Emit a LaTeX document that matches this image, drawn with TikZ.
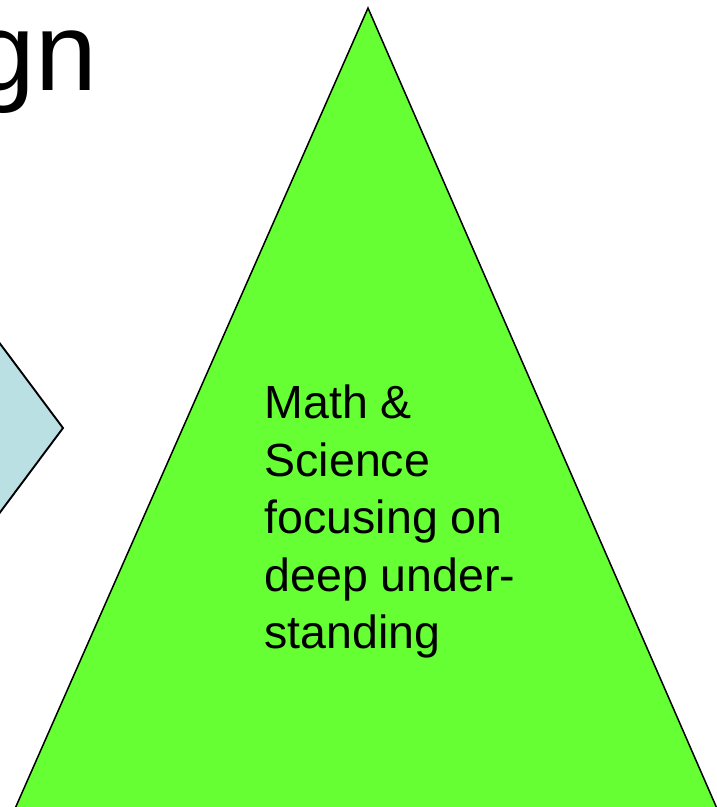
\documentclass[tikz,border=0pt]{standalone}
\usepackage{fontspec}
\setmainfont{Liberation Sans}
\definecolor{trigreen}{HTML}{66FF33}
\definecolor{diablue}{HTML}{BBE0E3}
\tikzset{
  shapeline/.style={draw=black, line width=1.5pt, line join=miter},
  titletext/.style={inner sep=0pt, font=\fontsize{111}{133}\selectfont},
  bodytext/.style={inner sep=0pt, align=left, font=\fontsize{46.5}{57.5}\selectfont}
}
\begin{document}
\begin{tikzpicture}[x=1pt, y=-1pt]
\useasboundingbox (0,0) rectangle (717,807);
\clip (0,0) rectangle (717,807);
% partially visible diamond at the left
\coordinate (dR) at (63,428);
\coordinate (dT) at (-87,227);
\coordinate (dB) at (-87,629);
\coordinate (dL) at (-237,428);
\filldraw[shapeline, line width=1.9pt, fill=diablue] (dL) -- (dT) -- (dR) -- (dB) -- cycle;
% green triangle
\coordinate (tA) at (368,8);
\coordinate (tL) at (10,820);
\coordinate (tR) at (722,820);
\filldraw[shapeline, fill=trigreen] (tA) -- (tL) -- (tR) -- cycle;
% title fragment
\node[titletext, anchor=base east] (title) at (97.5,90.5) {gn};
% triangle label
\node[bodytext, anchor=north west] (label) at (264.5,385) {Math \&\\Science\\focusing on\\deep under-\\standing};
\end{tikzpicture}
\end{document}
